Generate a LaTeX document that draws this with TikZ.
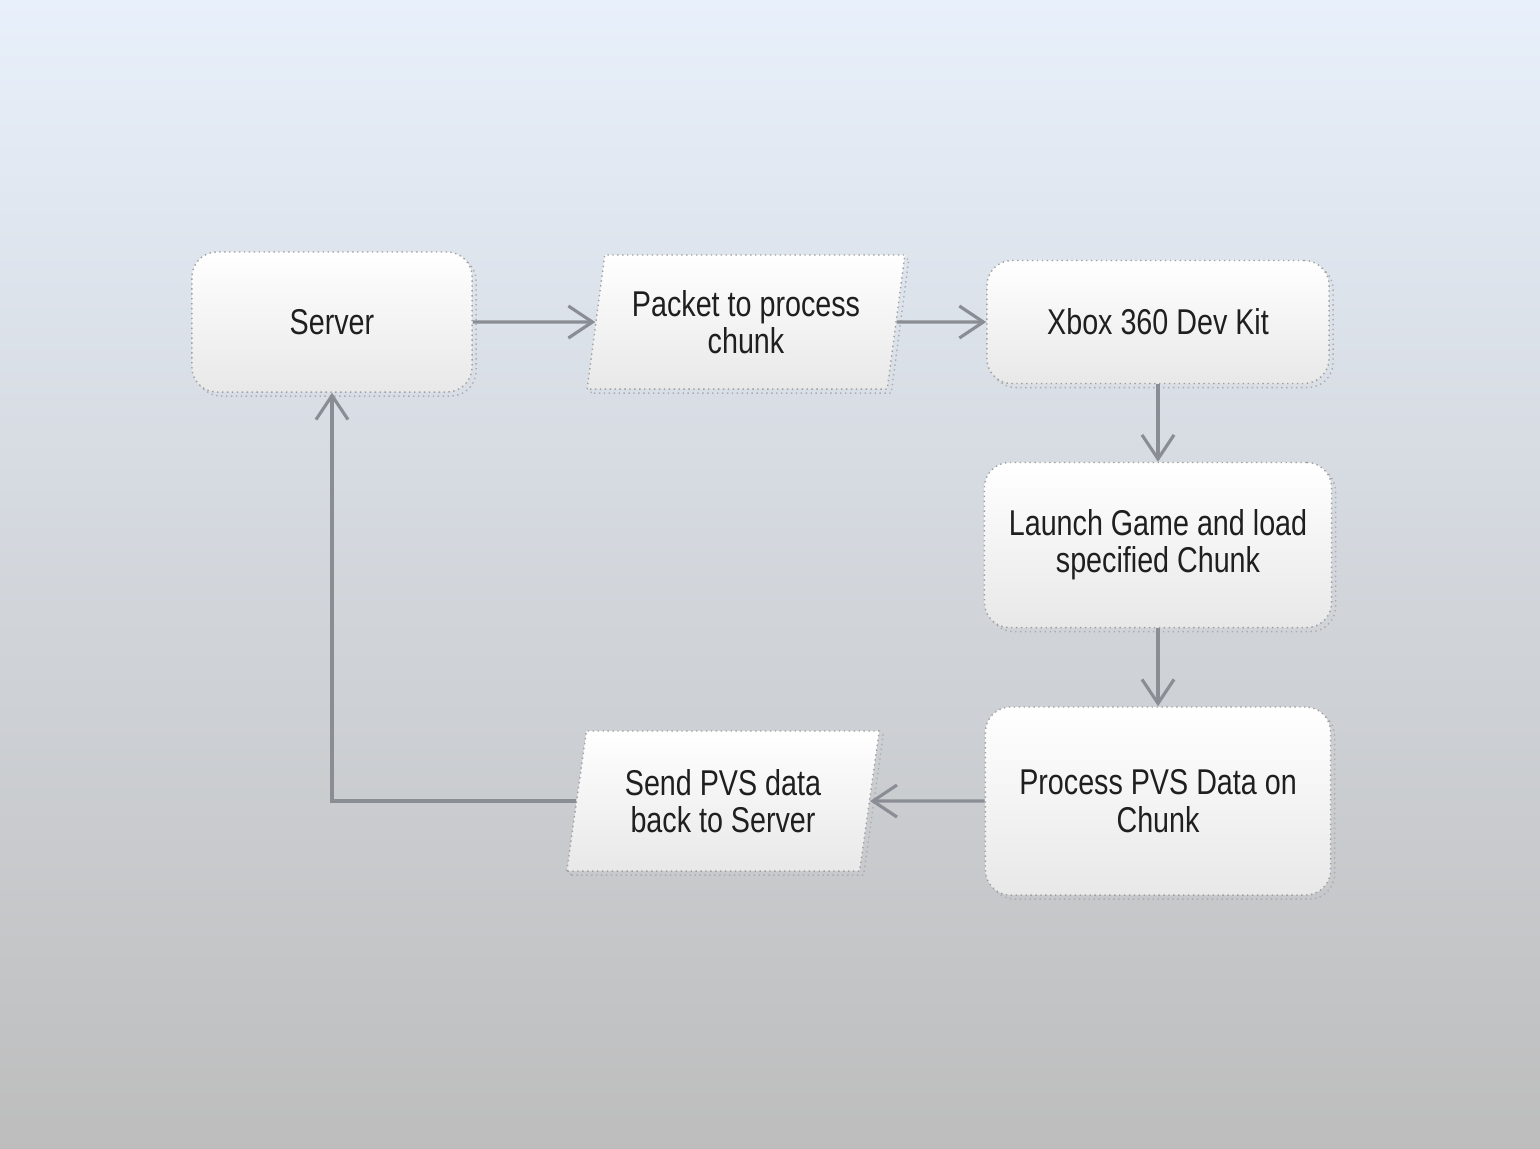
\documentclass[tikz,border=0pt]{standalone}
\usepackage{fontspec}
\setmainfont[FakeStretch=0.8]{Liberation Sans}
\usetikzlibrary{arrows.meta,shapes.geometric,shadows}
\definecolor{arrowgray}{HTML}{8A8E94}
\definecolor{bgtop}{HTML}{E8F0FB}
\definecolor{bgmid}{HTML}{D4D9E0}
\definecolor{bgbot}{HTML}{BDBDBD}
\begin{document}
\begin{tikzpicture}[x=0.01cm,y=-0.01cm,every node/.style={font=\fontsize{10.2}{10.6}\selectfont,text=black!88,align=center}]
  \tikzset{
    boxfill/.style={draw=gray!75,densely dotted,top color=white,bottom color=black!9,inner sep=2pt,
      general shadow={shadow xshift=0.04cm,shadow yshift=-0.04cm,draw=gray!65,densely dotted}},
    block/.style={boxfill,rounded corners=0.25cm},
    data/.style={boxfill,trapezium,trapezium left angle=79,trapezium right angle=101,trapezium stretches=true},
    flow/.style={-{Straight Barb[length=2.4mm,width=3.2mm]},draw=arrowgray,line width=0.9pt,solid}
  }
  % background
  \fill[top color=bgtop,middle color=bgmid,bottom color=bgbot] (0,0) rectangle (1540,1148);
  \useasboundingbox (0,0) rectangle (1540,1148);

  \node[block,minimum width=2.8cm,minimum height=1.4cm] (srv) at (332,322) {Server};
  \node[data,minimum width=3.18cm,minimum height=1.34cm] (pkt) at (746,322) {Packet to process\\chunk};
  \node[block,minimum width=3.42cm,minimum height=1.23cm] (xbox) at (1158,322) {Xbox 360 Dev Kit};
  \node[block,minimum width=3.47cm,minimum height=1.65cm] (launch) at (1158,545) {Launch Game and load\\specified Chunk};
  \node[block,minimum width=3.45cm,minimum height=1.88cm] (proc) at (1158,801) {Process PVS Data on\\Chunk};
  \node[data,minimum width=3.13cm,minimum height=1.4cm] (send) at (723,801) {Send PVS data\\back to Server};

  \draw[flow] (srv.east) -- (pkt.west);
  \draw[flow] (pkt.east) -- (xbox.west);
  \draw[flow] (xbox.south) -- (launch.north);
  \draw[flow] (launch.south) -- (proc.north);
  \draw[flow] (proc.west) -- (send.east);
  \draw[flow] (send.west) -| (srv.south);
\end{tikzpicture}
\end{document}
